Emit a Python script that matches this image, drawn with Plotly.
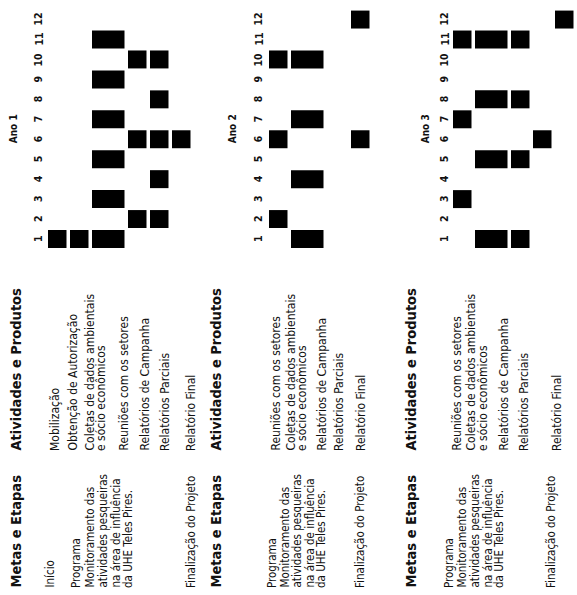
import plotly.graph_objects as go

# ---- dados (cronograma, 3 anos) ----
anos = ['Ano 1', 'Ano 2', 'Ano 3']
meses = list(range(1, 13))

atividades_ano1 = [['Mobilização'], ['Obtenção de Autorização'],
                   ['Coletas de dados ambientais', 'e sócio econômicos'],
                   ['Reuniões com os setores'], ['Relatórios de Campanha'],
                   ['Relatórios Parciais'], ['Relatório Final']]
meses_ano1 = [[1], [1], [1, 3, 5, 7, 9, 11], [2, 6, 10], [2, 4, 6, 8, 10], [6], []]
metas_ano1 = ['Início', 'Programa', 'Monitoramento das', 'atividades pesqueiras',
              'na área de influência', 'da UHE Teles Pires.', 'Finalização do Projeto']

atividades_ano2 = [['Reuniões com os setores'],
                   ['Coletas de dados ambientais', 'e sócio econômicos'],
                   ['Relatórios de Campanha'], ['Relatórios Parciais'],
                   ['Relatório Final']]
meses_ano2 = [[2, 6, 10], [1, 4, 7, 10], [], [], [6, 12]]
metas_ano2 = ['Programa', 'Monitoramento das', 'atividades pesqueiras',
              'na área de influência', 'da UHE Teles Pires.', 'Finalização do Projeto']

atividades_ano3 = [['Reuniões com os setores'],
                   ['Coletas de dados ambientais', 'e sócio econômicos'],
                   ['Relatórios de Campanha'], ['Relatórios Parciais'],
                   ['Relatório Final']]
meses_ano3 = [[3, 7, 11], [1, 5, 8, 11], [1, 5, 8, 11], [6], [12]]
metas_ano3 = ['Programa', 'Monitoramento das', 'atividades pesqueiras',
              'na área de influência', 'da UHE Teles Pires.', 'Finalização do Projeto']

secoes = [
    (atividades_ano1, meses_ano1, metas_ano1),
    (atividades_ano2, meses_ano2, metas_ano2),
    (atividades_ano3, meses_ano3, metas_ano3),
]

# ---- layout (pagina girada 90 graus, em pixels) ----
W, H = 577, 595
X_CAB = [15, 215, 410]        # cabecalho em negrito
X_ANO = [13, 232, 425]        # "Ano N"
X_MES = [38, 258, 444]        # numeros dos meses
X_LINHA1 = [48, 269, 453]     # inicio da primeira linha de barras
# posicao de cada linha de texto (coluna direita / coluna esquerda)
X_TXT_ATIV = [[55, 72, 89, 101, 123, 144, 165, 191],
              [275, 290, 302, 321, 339, 361],
              [456, 470, 483, 503, 524, 557]]
X_TXT_META = [[49, 76, 89, 102, 115, 128, 191],
              [272, 284, 296, 309, 321, 360],
              [449, 461, 474, 487, 499, 551]]
Y_ESQ, Y_DIR = 590, 453       # inicio (embaixo) das colunas de texto
MES1_PX, PASSO_MES = 239, 19.95


def mes(py):
    # converte posicao vertical (px) em "mes" do eixo y
    return 1 + (MES1_PX - py) / PASSO_MES


FONTE = 'DejaVu Sans Condensed, Liberation Sans Narrow, sans-serif'

bx, bbase, bw = [], [], []
anots = []


def texto(x, y, t, size=12, bold=False, anchor='bottom'):
    anots.append(dict(x=x, y=y, xref='x', yref='y', text=f'<b>{t}</b>' if bold else t,
                      textangle=-90, showarrow=False, xanchor='center', yanchor=anchor,
                      font=dict(family=FONTE, size=size, color='#111')))


for k, (ativ, ms, metas) in enumerate(secoes):
    # cabecalho
    texto(X_ANO[k], 6.5, anos[k], size=10, bold=True, anchor='middle')
    for m in meses:
        texto(X_MES[k], m, str(m), size=10.5, bold=True, anchor='middle')
    texto(X_CAB[k], mes(Y_ESQ), 'Metas e Etapas', size=14.5, bold=True)
    texto(X_CAB[k], mes(Y_DIR), 'Atividades e Produtos', size=14.5, bold=True)

    # textos
    linhas = [l for a in ativ for l in a]
    for t, x in zip(linhas, X_TXT_ATIV[k]):
        texto(x, mes(Y_DIR), t, size=12)
    for t, x in zip(metas, X_TXT_META[k]):
        texto(x, mes(Y_ESQ), t, size=11.5)

    # barras do cronograma
    inicio = X_LINHA1[k]
    for a, mm in zip(ativ, ms):
        if mm:
            passo = 36 if len(a) > 1 else 22
        else:
            passo = 12
        largura = passo - 3.5
        for m in mm:
            bx.append(inicio + largura / 2)
            bbase.append(m - 0.45)
            bw.append(largura)
        inicio += passo

fig = go.Figure(go.Bar(
    x=bx, y=[0.9] * len(bx), base=bbase, width=bw,
    marker=dict(color='black', line=dict(width=0)),
    hoverinfo='skip'
))

fig.update_layout(
    width=W, height=H,
    margin=dict(l=0, r=0, t=0, b=0),
    paper_bgcolor='white', plot_bgcolor='white',
    showlegend=False,
    barmode='overlay',
    xaxis=dict(range=[0, W], visible=False, fixedrange=True),
    yaxis=dict(range=[mes(H), mes(0)], visible=False, fixedrange=True),
    annotations=anots
)

fig.write_html("out.html", config={'displayModeBar': False},
               post_script="document.body.style.margin='0';")
